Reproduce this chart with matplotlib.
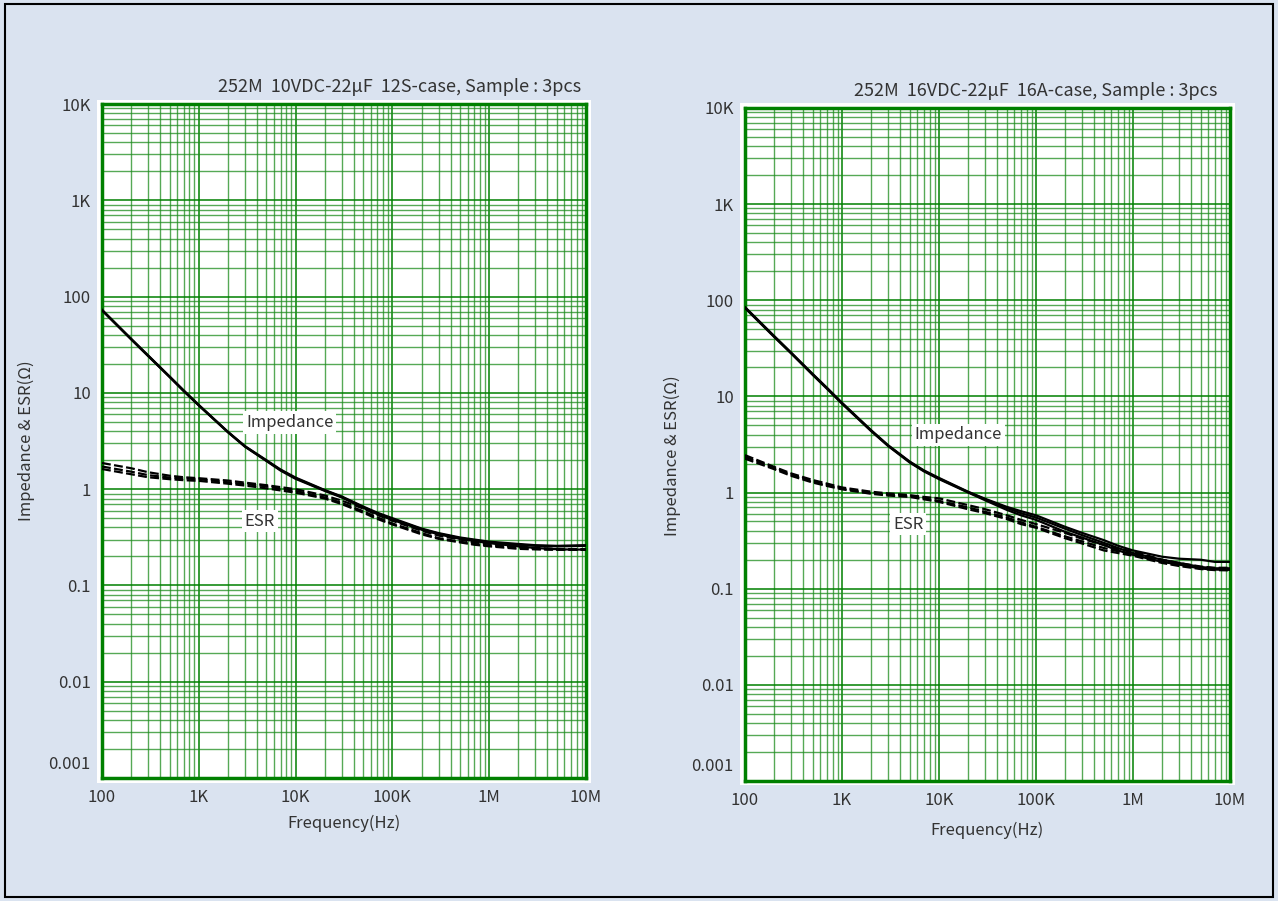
import matplotlib
matplotlib.use("Agg")
import matplotlib.pyplot as plt
import matplotlib.transforms as mtransforms
from matplotlib.patches import Rectangle
from matplotlib.ticker import LogLocator, NullFormatter

plt.rcParams["font.family"] = ["Noto Sans CJK JP", "DejaVu Sans"]

# frequency points (Hz)
freq = [100, 200, 300, 500, 700, 1e3, 2e3, 3e3, 5e3, 7e3, 1e4, 2e4, 3e4, 5e4, 7e4,
        1e5, 2e5, 3e5, 5e5, 7e5, 1e6, 2e6, 3e6, 5e6, 7e6, 1e7]

# left chart: 10VDC-22uF 12S-case, 3 samples
z12_a = [73, 36.5, 24.5, 14.8, 10.6, 7.5, 3.95, 2.8, 2.0, 1.6, 1.32, 0.98, 0.84, 0.66, 0.57,
         0.50, 0.39, 0.35, 0.315, 0.30, 0.285, 0.27, 0.262, 0.258, 0.26, 0.262]
z12_b = [72.5, 36.2, 24.3, 14.7, 10.5, 7.45, 3.92, 2.78, 1.98, 1.58, 1.30, 0.97, 0.83, 0.65, 0.56,
         0.49, 0.385, 0.345, 0.31, 0.295, 0.28, 0.265, 0.258, 0.255, 0.256, 0.258]
z12_c = [72, 36, 24.1, 14.6, 10.4, 7.4, 3.9, 2.76, 1.96, 1.56, 1.28, 0.96, 0.82, 0.64, 0.55,
         0.48, 0.38, 0.34, 0.305, 0.29, 0.275, 0.255, 0.245, 0.238, 0.236, 0.236]
esr12_a = [1.87, 1.65, 1.50, 1.38, 1.33, 1.30, 1.23, 1.17, 1.10, 1.05, 1.00, 0.86, 0.76, 0.63, 0.54,
           0.47, 0.37, 0.33, 0.30, 0.28, 0.27, 0.25, 0.245, 0.24, 0.238, 0.238]
esr12_b = [1.72, 1.52, 1.40, 1.32, 1.29, 1.27, 1.18, 1.13, 1.07, 1.01, 0.96, 0.82, 0.72, 0.59, 0.51,
           0.44, 0.35, 0.31, 0.285, 0.27, 0.26, 0.245, 0.24, 0.235, 0.235, 0.235]
esr12_c = [1.62, 1.43, 1.33, 1.27, 1.24, 1.22, 1.14, 1.09, 1.02, 0.97, 0.92, 0.80, 0.70, 0.57, 0.49,
           0.43, 0.34, 0.305, 0.28, 0.265, 0.255, 0.24, 0.237, 0.235, 0.234, 0.235]

# right chart: 16VDC-22uF 16A-case, 3 samples
z16_a = [85, 42.5, 28.5, 17.1, 12.3, 8.6, 4.45, 3.1, 2.1, 1.7, 1.42, 1.02, 0.86, 0.71, 0.64,
         0.58, 0.44, 0.38, 0.32, 0.28, 0.25, 0.215, 0.205, 0.20, 0.19, 0.19]
z16_b = [84, 42, 28.2, 16.9, 12.2, 8.5, 4.4, 3.07, 2.08, 1.68, 1.40, 1.01, 0.85, 0.69, 0.61,
         0.55, 0.42, 0.36, 0.30, 0.265, 0.235, 0.20, 0.185, 0.168, 0.163, 0.163]
z16_c = [83, 41.5, 27.9, 16.7, 12.0, 8.4, 4.35, 3.04, 2.05, 1.66, 1.38, 1.00, 0.83, 0.66, 0.58,
         0.52, 0.39, 0.34, 0.285, 0.25, 0.225, 0.19, 0.178, 0.162, 0.158, 0.157]
esr16_a = [2.45, 1.85, 1.58, 1.35, 1.24, 1.13, 1.02, 0.98, 0.94, 0.90, 0.87, 0.74, 0.67, 0.58, 0.52,
           0.47, 0.38, 0.33, 0.285, 0.26, 0.245, 0.20, 0.185, 0.17, 0.165, 0.165]
esr16_b = [2.35, 1.80, 1.53, 1.30, 1.20, 1.10, 0.99, 0.95, 0.92, 0.87, 0.82, 0.70, 0.63, 0.55, 0.49,
           0.44, 0.35, 0.31, 0.265, 0.245, 0.23, 0.19, 0.178, 0.165, 0.16, 0.16]
esr16_c = [2.25, 1.75, 1.49, 1.27, 1.17, 1.08, 0.97, 0.93, 0.90, 0.85, 0.80, 0.67, 0.61, 0.53, 0.47,
           0.43, 0.335, 0.295, 0.25, 0.235, 0.22, 0.185, 0.172, 0.16, 0.156, 0.155]

x_ticks = [1e2, 1e3, 1e4, 1e5, 1e6, 1e7]
x_labels = ["100", "1K", "10K", "100K", "1M", "10M"]
y_ticks = [1e-3, 1e-2, 1e-1, 1, 10, 100, 1e3, 1e4]
y_labels = ["0.001", "0.01", "0.1", "1", "10", "100", "1K", "10K"]

charts = [
    dict(pos=[0.0798, 0.1365, 0.3787, 0.748],
         title="252M  10VDC-22μF  12S-case, Sample : 3pcs", title_x=0.99,
         z=[z12_a, z12_b, z12_c], esr=[esr12_a, esr12_b, esr12_c],
         imp_lbl=(8750, 4.95), esr_lbl=(4290, 0.466),
         xlab_at=(0.5, -0.055), ylab_at=(-0.138, 0.50)),
    dict(pos=[0.5829, 0.1332, 0.3795, 0.747],
         title="252M  16VDC-22μF  16A-case, Sample : 3pcs", title_x=0.975,
         z=[z16_a, z16_b, z16_c], esr=[esr16_a, esr16_b, esr16_c],
         imp_lbl=(15900, 3.98), esr_lbl=(4830, 0.47),
         xlab_at=(0.5, -0.061), ylab_at=(-0.132, 0.484)),
]

BG = "#dae3f0"
GREEN = "#008000"
TXT = "#333333"

fig = plt.figure(figsize=(12.78, 9.01), dpi=100, facecolor=BG)
fig.patches.append(Rectangle((0.004, 0.004), 0.992, 0.992, transform=fig.transFigure,
                             fill=False, edgecolor="black", lw=1.5))

for c in charts:
    l, b, w, h = c["pos"]
    fig.patches.append(Rectangle((l - 0.004, b - 0.005), w + 0.008, h + 0.010,
                                 transform=fig.transFigure, facecolor="white",
                                 edgecolor="none", zorder=-1))
    ax = fig.add_axes(c["pos"])
    ax.set_zorder(2)
    ax.set_xscale("log")
    ax.set_yscale("log")
    ax.set_xlim(1e2, 1e7)
    ax.set_ylim(1e-3, 1e4)

    ax.xaxis.set_minor_locator(LogLocator(base=10, subs=range(2, 10), numticks=50))
    ax.yaxis.set_minor_locator(LogLocator(base=10, subs=range(2, 10), numticks=50))
    ax.xaxis.set_minor_formatter(NullFormatter())
    ax.yaxis.set_minor_formatter(NullFormatter())
    ax.set_xticks(x_ticks, x_labels)
    ax.set_yticks(y_ticks, y_labels)
    ax.tick_params(which="both", length=0, labelsize=12, colors=TXT)
    ax.tick_params(axis="x", pad=8)
    ax.tick_params(axis="y", pad=8)

    ax.grid(True, which="major", color=GREEN, lw=1.1, zorder=1)
    ax.grid(True, which="minor", color="#1e8c1e", lw=1.0, alpha=0.75, zorder=1)
    for sp in ax.spines.values():
        sp.set_color(GREEN)
        sp.set_linewidth(2.5)

    # nudge the bottom y label up, clear of the frequency labels
    lbl = ax.get_yticklabels()[0]
    lbl.set_transform(lbl.get_transform() +
                      mtransforms.ScaledTranslation(0, 16 / 100, fig.dpi_scale_trans))

    for zs in c["z"]:
        ax.plot(freq, zs, "-", color="black", lw=1.6, zorder=3)
    for es in c["esr"]:
        ax.plot(freq, es, "--", color="black", lw=1.6, dashes=(4, 1.5), zorder=3)

    box = dict(facecolor="white", edgecolor="none", pad=2)
    ax.text(*c["imp_lbl"], "Impedance", ha="center", va="center", fontsize=12,
            color=TXT, bbox=box, zorder=4)
    ax.text(*c["esr_lbl"], "ESR", ha="center", va="center", fontsize=12,
            color=TXT, bbox=box, zorder=4)

    ax.text(c["title_x"], 1.012, c["title"], transform=ax.transAxes, ha="right",
            va="bottom", fontsize=13, color=TXT)
    ax.set_xlabel("Frequency(Hz)", fontsize=12, color=TXT)
    ax.set_ylabel("Impedance & ESR(Ω)", fontsize=12, color=TXT)
    ax.xaxis.set_label_coords(*c["xlab_at"])
    ax.yaxis.set_label_coords(*c["ylab_at"])

fig.savefig("out.png", dpi=100, facecolor=BG)
